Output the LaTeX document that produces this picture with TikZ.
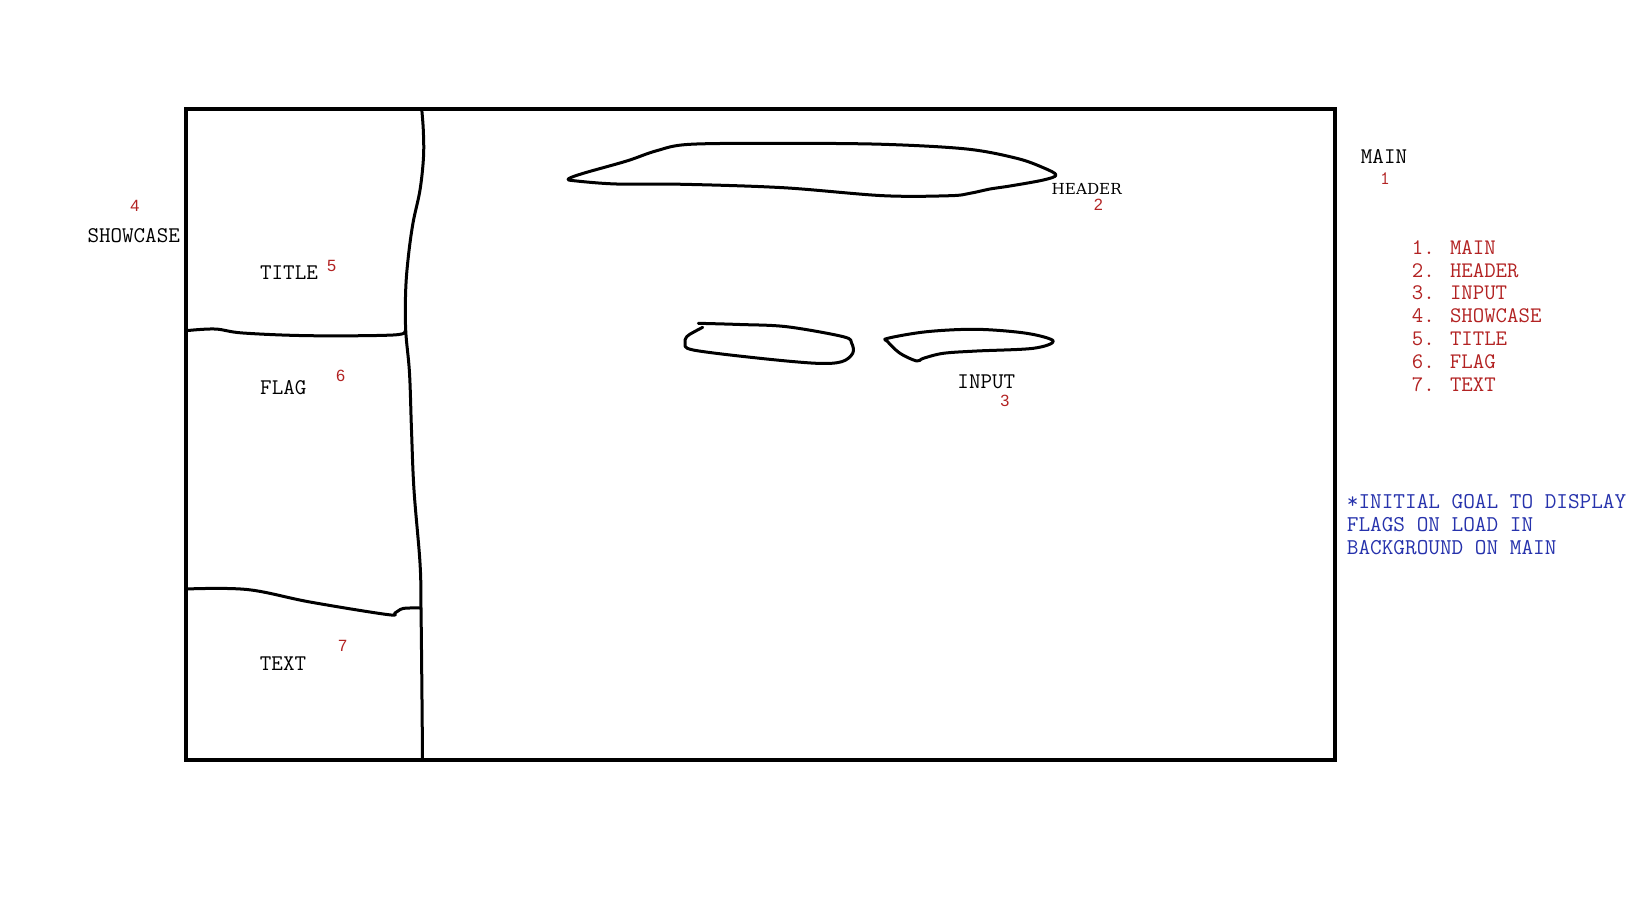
\documentclass[tikz,border=0pt]{standalone}
\usepackage{fontspec}
\newfontfamily\numfont{Liberation Sans}
\newfontfamily\hdrfont{DejaVu Serif}
\newcommand\courtt{\ttfamily\addfontfeature{FakeBold=1}}
\definecolor{labred}{RGB}{178,34,34}
\definecolor{noteblue}{RGB}{38,50,172}
\begin{document}
\begin{tikzpicture}[x=1pt,y=-1pt,
  frame/.style={line width=4pt},
  sketch/.style={line width=3pt, line cap=round, line join=round},
  lbl/.style={font=\fontsize{22.4}{26}\selectfont\courtt, inner sep=0pt},
  hdr/.style={font=\fontsize{15.2}{18}\selectfont\hdrfont, inner sep=0pt},
  num/.style={font=\fontsize{16.3}{19}\selectfont\numfont, text=labred, inner sep=0pt},
  monum/.style={font=\fontsize{19}{21}\selectfont\courtt, text=labred, inner sep=0pt},
  listitem/.style={font=\fontsize{22.2}{26}\selectfont\courtt, text=labred, inner sep=0pt, anchor=west},
  noteline/.style={font=\fontsize{22.6}{26}\selectfont\courtt, text=noteblue, inner sep=0pt, anchor=west}
]
\useasboundingbox (0,0) rectangle (1649,906);

% main frame
\draw[frame] (186,109) rectangle (1335,760);

% vertical divider
\draw[sketch] plot[smooth, tension=0.6] coordinates {
  (421.7,109) (423.3,130) (423.5,157) (420,190) (413,223) (408.3,257)
  (405.7,290) (405.7,330) (409.5,373) (411.5,430) (414,490)
  (420,563) (421,608) (422,700) (422.5,759)};

% title/flag line
\draw[sketch] plot[smooth, tension=0.6] coordinates {
  (186,330.7) (215,329) (243,333) (310,335.7) (393,335) (405,331)};

% flag/text line
\draw[sketch] plot[smooth, tension=0.6] coordinates {
  (186,589) (247,589.5) (310,602) (387,614.5) (395,613) (403,608.5) (420,608)};

% header shape
\draw[sketch] plot[smooth cycle, tension=0.55] coordinates {
  (568.3,179) (583.3,173.3) (626.7,161) (656.7,150.7) (690,144.3)
  (783.3,143.3) (883.3,144.3) (966.7,149) (1016.7,158.3) (1043.3,167.7)
  (1056,175) (1043.3,180) (1010,186) (990,189) (970,193.3) (950,195.7)
  (883.3,195.7) (783.3,187.7) (683.3,184.3) (616.7,184) (576.7,181)};

% input shape A
\draw[sketch] plot[smooth, tension=0.55] coordinates {
  (698.3,323.3) (740,324.5) (786.7,326.7) (843.3,336.7) (851.7,343.3)
  (852.7,353.3) (841.7,361.7) (816.7,363.3) (760,358.3) (693.3,350)
  (685,343.3) (686.7,336.7) (693.3,332.3) (702.7,327.3)};

% input shape B
\draw[sketch] plot[smooth cycle, tension=0.55] coordinates {
  (887.7,338.3) (926.7,331.7) (976.7,329.3) (1026.7,333.3) (1053.3,341)
  (1033.3,348.3) (976.7,351) (943.3,353.3) (923.3,358.3) (916.7,361)
  (900,353.3) (887.7,341.7)};

% labels
\node[lbl] (showcase) at (133.7,236) {SHOWCASE};
\node[num] (n4) at (135,206) {4};
\node[lbl] (title) at (289,273) {TITLE};
\node[num] (n5) at (331.7,265.7) {5};
\node[lbl] (flag) at (283.3,388) {FLAG};
\node[num] (n6) at (340.7,376) {6};
\node[lbl] (text) at (283,664) {TEXT};
\node[num] (n7) at (342.7,646) {7};
\node[hdr] (header) at (1086.7,189) {HEADER};
\node[num] (n2) at (1098.3,205) {2};
\node[lbl] (input) at (986.3,381.7) {INPUT};
\node[num] (n3) at (1005,401) {3};
\node[lbl] (main) at (1384,156.7) {MAIN};
\node[monum] (n1) at (1385,178.3) {1};

% legend list
\node[listitem] (l1) at (1411.7,247.3) {1. MAIN};
\node[listitem] (l2) at (1411.7,270.2) {2. HEADER};
\node[listitem] (l3) at (1411.7,293.1) {3. INPUT};
\node[listitem] (l4) at (1411.7,316.1) {4. SHOWCASE};
\node[listitem] (l5) at (1411.7,339.2) {5. TITLE};
\node[listitem] (l6) at (1411.7,362.1) {6. FLAG};
\node[listitem] (l7) at (1411.7,385) {7. TEXT};

% note
\node[noteline] (note1) at (1346.7,501.7) {*INITIAL GOAL TO DISPLAY};
\node[noteline] (note2) at (1346.7,524.5) {FLAGS ON LOAD IN};
\node[noteline] (note3) at (1346.7,547.3) {BACKGROUND ON MAIN};
\end{tikzpicture}
\end{document}
